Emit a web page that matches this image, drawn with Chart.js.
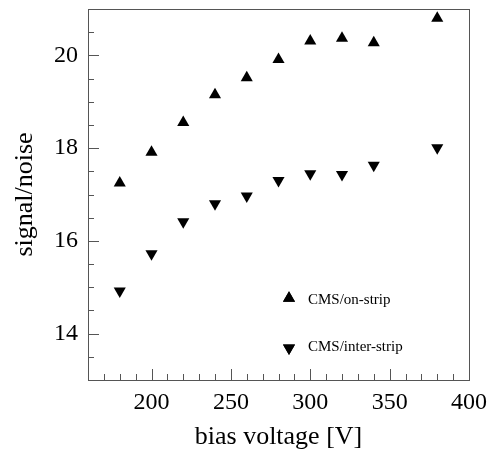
<!DOCTYPE html>
<html>
<head>
<meta charset="utf-8">
<script src="https://cdn.jsdelivr.net/npm/chart.js@4"></script>
<style>
  html, body { margin: 0; padding: 0; background: #fff; }
  #snChart { display: block; }
</style>
</head>
<body>
<canvas id="snChart" width="490" height="453"></canvas>
<script>
// bias voltage [V]
const biasVoltage = [180, 200, 220, 240, 260, 280, 300, 320, 340, 380];
// signal/noise for the two readout positions
const onStrip = [17.25, 17.91, 18.55, 19.15, 19.52, 19.91, 20.31, 20.37, 20.27, 20.80];
const interStrip = [14.92, 15.72, 16.41, 16.80, 16.97, 17.30, 17.45, 17.43, 17.63, 18.01];
const seriesLabels = ["CMS/on-strip", "CMS/inter-strip"];

const serif = "'Liberation Serif', 'DejaVu Serif', serif";
const frameColor = "#555";

function toPoints(ys) {
    return biasVoltage.map((x, i) => ({ x: x, y: ys[i] }));
}

// frame, inward ticks and the small legend inside the plot
const framePlugin = {
    id: "frame",
    afterDraw(chart) {
        const ctx = chart.ctx;
        const area = chart.chartArea;
        const xs = chart.scales.x;
        const ys = chart.scales.y;
        ctx.save();
        ctx.strokeStyle = frameColor;
        ctx.lineWidth = 1;
        ctx.strokeRect(Math.round(area.left) + 0.5, Math.round(area.top) + 0.5,
            Math.round(area.right - area.left), Math.round(area.bottom - area.top));

        ctx.beginPath();
        xs.ticks.forEach(t => {
            const px = Math.round(xs.getPixelForValue(t.value)) + 0.5;
            const len = t.value % 50 === 0 ? 11 : 6;
            ctx.moveTo(px, area.bottom);
            ctx.lineTo(px, area.bottom - len);
        });
        ys.ticks.forEach(t => {
            const py = Math.round(ys.getPixelForValue(t.value)) + 0.5;
            const len = t.value % 2 === 0 ? 11 : 6;
            ctx.moveTo(area.left, py);
            ctx.lineTo(area.left + len, py);
        });
        ctx.stroke();

        // legend
        ctx.font = "15px " + serif;
        ctx.textBaseline = "middle";
        const lx = area.left + 201;
        const rows = [area.top + 291, area.top + 338];
        chart.data.datasets.forEach((ds, i) => {
            // shift so the triangle's box is centred on the text row
            const shift = ds.rotation ? 1 : -1.75;
            Chart.helpers.drawPoint(ctx, {
                pointStyle: ds.pointStyle,
                rotation: ds.rotation,
                radius: ds.pointRadius,
                borderWidth: 0
            }, lx, rows[i] + shift);
            ctx.fillStyle = "#000";
            ctx.fill();
            ctx.fillText(ds.label, lx + 19, rows[i]);
        });
        ctx.restore();
    }
};

new Chart(document.getElementById("snChart").getContext("2d"), {
    type: "scatter",
    data: {
        datasets: [
            {
                label: seriesLabels[0],
                data: toPoints(onStrip),
                pointStyle: "triangle",
                rotation: 0,
                pointRadius: 7,
                pointBorderWidth: 0,
                backgroundColor: "#000",
                borderColor: "#000"
            },
            {
                label: seriesLabels[1],
                data: toPoints(interStrip),
                pointStyle: "triangle",
                rotation: 180,
                pointRadius: 7,
                pointBorderWidth: 0,
                backgroundColor: "#000",
                borderColor: "#000"
            }
        ]
    },
    options: {
        responsive: false,
        animation: false,
        layout: { padding: { top: 9, right: 21, left: 0, bottom: 0 } },
        plugins: {
            legend: { display: false },
            tooltip: { enabled: false }
        },
        scales: {
            x: {
                type: "linear",
                min: 160,
                max: 400,
                afterFit: s => {
                    s.height = 73;
                    s.paddingLeft = 0;
                    s.paddingRight = 0;
                },
                grid: { display: false, drawTicks: false },
                border: { display: false },
                ticks: {
                    stepSize: 10,
                    autoSkip: false,
                    maxRotation: 0,
                    padding: 8,
                    color: "#000",
                    font: { family: serif, size: 24 },
                    callback: v => (v % 50 === 0 ? v : "")
                },
                title: {
                    display: true,
                    text: "bias voltage [V]",
                    color: "#000",
                    align: "center",
                    font: { family: serif, size: 26 },
                    padding: 0
                }
            },
            y: {
                type: "linear",
                min: 13,
                max: 21,
                afterFit: s => {
                    s.width = 88;
                    s.paddingTop = 0;
                    s.paddingBottom = 0;
                },
                grid: { display: false, drawTicks: false },
                border: { display: false },
                ticks: {
                    stepSize: 0.5,
                    autoSkip: false,
                    padding: 10,
                    color: "#000",
                    font: { family: serif, size: 24 },
                    callback: v => (v % 2 === 0 ? v : "")
                },
                title: {
                    display: true,
                    text: "signal/noise",
                    color: "#000",
                    font: { family: serif, size: 26 },
                    padding: { top: 10, bottom: 0 }
                }
            }
        }
    },
    plugins: [framePlugin]
});
</script>
</body>
</html>
